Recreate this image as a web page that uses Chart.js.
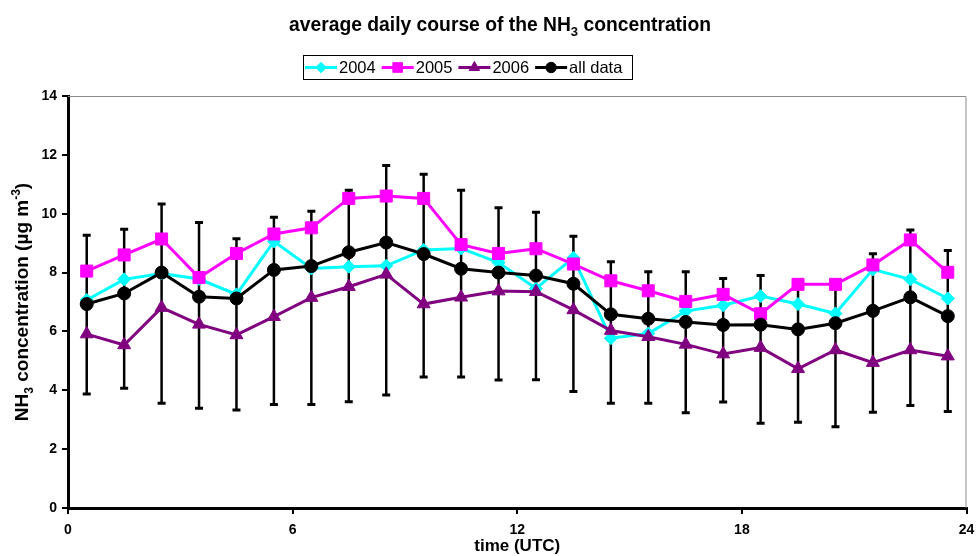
<!DOCTYPE html>
<html>
<head>
<meta charset="utf-8">
<script src="https://cdn.jsdelivr.net/npm/chart.js@4.4.1/dist/chart.umd.min.js"></script>
<style>
html,body{margin:0;padding:0;background:#fff;}
#wrap{width:976px;height:556px;}
</style>
</head>
<body>
<div id="wrap"><canvas id="c" width="976" height="556"></canvas></div>
<script>
const hours = [0.5,1.5,2.5,3.5,4.5,5.5,6.5,7.5,8.5,9.5,10.5,11.5,12.5,13.5,14.5,15.5,16.5,17.5,18.5,19.5,20.5,21.5,22.5,23.5];
const y2004 = [7.07,7.77,7.97,7.78,7.26,9.06,8.14,8.20,8.23,8.77,8.82,8.34,7.46,8.50,5.77,5.93,6.69,6.89,7.20,6.93,6.61,8.11,7.77,7.12];
const y2005 = [8.05,8.60,9.14,7.83,8.65,9.31,9.52,10.52,10.60,10.52,8.95,8.65,8.81,8.29,7.72,7.38,7.02,7.26,6.60,7.60,7.60,8.26,9.11,8.01];
const y2006 = [5.91,5.54,6.81,6.24,5.88,6.50,7.15,7.52,7.94,6.93,7.16,7.37,7.35,6.73,6.03,5.82,5.56,5.23,5.45,4.73,5.37,4.94,5.37,5.16];
const yAll  = [6.93,7.29,8.00,7.18,7.12,8.09,8.22,8.69,9.02,8.63,8.13,8.00,7.90,7.62,6.58,6.43,6.32,6.22,6.23,6.07,6.28,6.70,7.16,6.52];
const errHigh = [9.27,9.47,10.33,9.70,9.15,9.88,10.08,10.80,11.64,11.34,10.80,10.20,10.05,9.23,8.37,8.03,8.03,7.80,7.90,7.60,7.60,8.64,9.45,8.75];
const errLow  = [3.87,4.07,3.56,3.39,3.33,3.52,3.52,3.61,3.84,4.45,4.45,4.35,4.36,3.96,3.56,3.56,3.24,3.60,2.88,2.91,2.76,3.25,3.48,3.28];
const seriesNames = ['2004','2005','2006','all data'];
const xTicks = [0,6,12,18,24];
const yTicks = [0,2,4,6,8,10,12,14];
const xTitle = 'time (UTC)';
// rich text pieces: [text, kind] where kind: n = normal, sub = subscript, sup = superscript
const titleParts = [['average daily course of the NH','n'],['3','sub'],[' concentration','n']];
const yTitleParts = [['NH','n'],['3','sub'],[' concentration (\u00b5g m','n'],['-3','sup'],[')','n']];

const FONT = "'Liberation Sans', Arial, sans-serif";
const colors = ['#00FFFF','#FF00FF','#800080','#000000'];
const styles = ['rectRot','rect','triangle','circle'];
const radii = [6.5,8.5,7.5,6.5];

function pts(arr){ return hours.map((h,i)=>({x:h,y:arr[i]})); }
const allSeries = [y2004,y2005,y2006,yAll];

const datasets = allSeries.map((arr,i)=>({
  label: seriesNames[i],
  data: pts(arr),
  borderColor: colors[i],
  backgroundColor: colors[i],
  borderWidth: 3,
  pointStyle: styles[i],
  pointRadius: radii[i],
  pointBorderWidth: 1,
  pointBorderColor: colors[i],
  pointBackgroundColor: colors[i],
  tension: 0,
  order: 3 - i
}));

function drawRich(ctx, parts, size, cx, baseY){
  const small = Math.round(size * 0.65);
  const specs = parts.map(([t,k])=>{
    const fs = k === 'n' ? size : small;
    ctx.font = 'bold ' + fs + 'px ' + FONT;
    return {t, fs, w: ctx.measureText(t).width, dy: k === 'sub' ? size*0.27 : (k === 'sup' ? -size*0.42 : 0)};
  });
  const total = specs.reduce((s,p)=>s+p.w,0);
  let x = cx - total/2;
  ctx.textAlign = 'left';
  ctx.textBaseline = 'alphabetic';
  specs.forEach(p=>{
    ctx.font = 'bold ' + p.fs + 'px ' + FONT;
    ctx.fillText(p.t, x, baseY + p.dy);
    x += p.w;
  });
}

const decor = {
  id: 'decor',
  beforeDatasetsDraw(chart){
    const ctx = chart.ctx, a = chart.chartArea;
    const xs = chart.scales.x, ys = chart.scales.y;
    ctx.save();
    ctx.strokeStyle = '#8c8c8c';
    ctx.lineWidth = 1;
    ctx.beginPath();
    ctx.moveTo(a.left, a.top + 0.5);
    ctx.lineTo(a.right - 0.5, a.top + 0.5);
    ctx.lineTo(a.right - 0.5, a.bottom);
    ctx.stroke();
    ctx.strokeStyle = '#000';
    hours.forEach((h,i)=>{
      const px = xs.getPixelForValue(h);
      const pHi = ys.getPixelForValue(errHigh[i]);
      const pLo = ys.getPixelForValue(errLow[i]);
      ctx.lineWidth = 2.5;
      ctx.beginPath();
      ctx.moveTo(px, pHi); ctx.lineTo(px, pLo);
      ctx.stroke();
      ctx.lineWidth = 3;
      ctx.beginPath();
      ctx.moveTo(px-4, pHi); ctx.lineTo(px+4, pHi);
      ctx.moveTo(px-4, pLo); ctx.lineTo(px+4, pLo);
      ctx.stroke();
    });
    ctx.restore();
  },
  afterDraw(chart){
    const ctx = chart.ctx, a = chart.chartArea;
    ctx.save();
    ctx.fillStyle = '#000';
    drawRich(ctx, titleParts, 19.3, 500, 31);
    ctx.save();
    ctx.translate(27.5, (a.top + a.bottom)/2);
    ctx.rotate(-Math.PI/2);
    drawRich(ctx, yTitleParts, 19, 0, 0);
    ctx.restore();
    const bx = 303, by = 55, bw = 329, bh = 24;
    ctx.strokeStyle = '#000';
    ctx.lineWidth = 1;
    ctx.strokeRect(bx + 0.5, by + 0.5, bw, bh);
    ctx.font = '16.5px ' + FONT;
    ctx.textAlign = 'left';
    ctx.textBaseline = 'middle';
    let x = 305;
    const cy = by + bh/2 + 0.5;
    seriesNames.forEach((n,i)=>{
      ctx.strokeStyle = colors[i];
      ctx.lineWidth = 3;
      ctx.beginPath();
      ctx.moveTo(x, cy); ctx.lineTo(x+32, cy);
      ctx.stroke();
      ctx.fillStyle = colors[i];
      ctx.strokeStyle = colors[i];
      ctx.lineWidth = 1;
      Chart.helpers.drawPoint(ctx, {pointStyle: styles[i], radius: radii[i]*0.8, rotation: 0, borderWidth: 1}, x+16, cy);
      ctx.fillStyle = '#000';
      ctx.fillText(n, x+34, cy+1);
      x += 34 + ctx.measureText(n).width + 6;
    });
    ctx.restore();
  }
};

new Chart(document.getElementById('c'), {
  type: 'line',
  data: { datasets },
  plugins: [decor],
  options: {
    responsive: false,
    animation: false,
    events: [],
    layout: { padding: { top: 96, right: 8, left: 0, bottom: 0 } },
    plugins: { legend: { display: false }, title: { display: false }, tooltip: { enabled: false } },
    scales: {
      x: {
        type: 'linear', min: 0, max: 24,
        afterBuildTicks(s){ s.ticks = xTicks.map(v=>({value:v})); },
        afterFit(s){ s.height = 48; s.paddingLeft = 0; s.paddingRight = 0; },
        ticks: { color: '#000', font: { family: FONT, size: 14, weight: 'bold' }, padding: 8, maxRotation: 0 },
        grid: { display: true, drawOnChartArea: false, drawTicks: true, tickLength: 6, color: '#000', lineWidth: 2 },
        border: { display: true, color: '#000', width: 3 },
        title: { display: true, text: xTitle, color: '#000', font: { family: FONT, size: 17, weight: 'bold', lineHeight: 1 }, padding: { top: 0, bottom: 1 } }
      },
      y: {
        type: 'linear', min: 0, max: 14,
        afterBuildTicks(s){ s.ticks = yTicks.map(v=>({value:v})); },
        afterFit(s){ s.width = 68; s.paddingTop = 0; s.paddingBottom = 0; },
        ticks: { color: '#000', font: { family: FONT, size: 14, weight: 'bold' }, padding: 5 },
        grid: { display: true, drawOnChartArea: false, drawTicks: true, tickLength: 6, color: '#000', lineWidth: 2 },
        border: { display: true, color: '#000', width: 3 },
        title: { display: false }
      }
    }
  }
});
</script>
</body>
</html>
